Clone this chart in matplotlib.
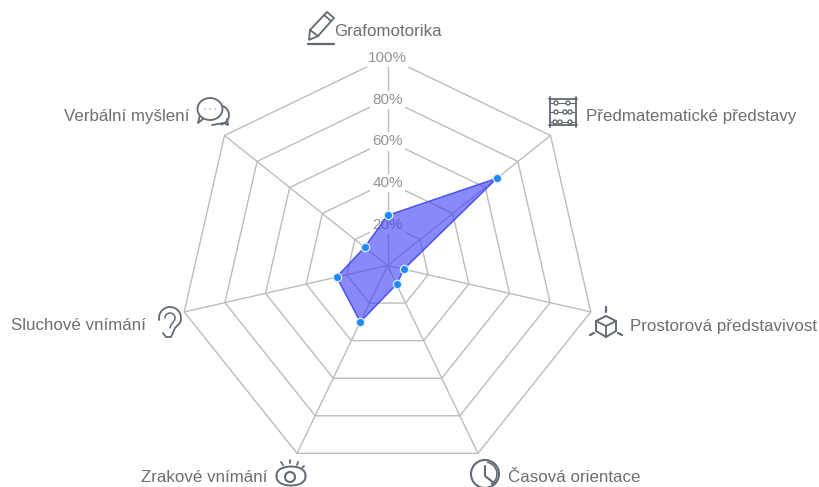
import numpy as np
import matplotlib
matplotlib.use('Agg')
import matplotlib.pyplot as plt
from matplotlib.patches import Circle, Ellipse, Arc, Polygon

# data
categories = ['Grafomotorika', 'Předmatematické představy', 'Prostorová představivost',
              'Časová orientace', 'Zrakové vnímání', 'Sluchové vnímání', 'Verbální myšlení']
values = [24, 67, 8, 10, 30, 25, 14]
ticks = [20, 40, 60, 80, 100]

GRID = '#bcbcbc'
TEXT = '#6e6e6e'
TICK = '#949494'
ICON = '#626972'

plt.rcParams['font.family'] = ['Liberation Sans', 'DejaVu Sans']

W, H = 819, 487
cx, cy, R = 387.5, 265.5, 208.5
fig = plt.figure(figsize=(W / 100, H / 100), dpi=100)

# radar axes, placed so the centre and the radius fall on the reference's pixels
ax = fig.add_axes([(cx - R) / W, (H - cy - R) / H, 2 * R / W, 2 * R / H], projection='polar')
ax.set_theta_zero_location('N')
ax.set_theta_direction(-1)
ax.set_ylim(0, 100)
ax.axis('off')

theta = np.linspace(0, 2 * np.pi, len(categories), endpoint=False)
closed = np.append(theta, theta[0])

for t in ticks:
    ax.plot(closed, [t] * len(closed), color=GRID, lw=1.0, zorder=1, clip_on=False)
for a in theta:
    ax.plot([a, a], [0, 100], color=GRID, lw=1.0, zorder=1, clip_on=False)

for t in ticks:
    ax.annotate(f'{t}%', xy=(0, t), xytext=(0, -1), textcoords='offset pixels',
                color=TICK, fontsize=11, ha='center', va='center', zorder=2,
                annotation_clip=False,
                bbox=dict(facecolor='white', edgecolor='none', pad=1.5))

vals = np.array(values + values[:1])
ax.fill(closed, vals, facecolor=(0.23, 0.24, 0.96, 0.6), edgecolor='none', zorder=3)
ax.plot(closed, vals, color='#4a52f2', lw=1.1, zorder=4)
ax.plot(theta, values, ls='none', marker='o', ms=6, mfc='#1f8af5', mec='#dcecfb', mew=0.9,
        zorder=5, clip_on=False)

# overlay in pixels for the labels and the icons
px = fig.add_axes([0, 0, 1, 1], facecolor='none')
px.set_xlim(0, W)
px.set_ylim(H, 0)
px.axis('off')

label_pos = [(334, 31, 'left'), (586, 116, 'left'), (630, 326, 'left'), (508, 478, 'left'),
             (267, 478, 'right'), (146, 326, 'right'), (189, 116, 'right')]
for name, (x, y, ha) in zip(categories, label_pos):
    px.text(x, y, name, color=TEXT, fontsize=12.2, ha=ha, va='center')


def ln(xs, ys, lw=1.3):
    px.plot(xs, ys, color=ICON, lw=lw, solid_capstyle='round', solid_joinstyle='round')


# pencil
px.add_patch(Polygon([(309, 40), (310, 30), (327, 12), (334, 18), (318, 36)], closed=True,
                     fc='none', ec=ICON, lw=1.3))
ln([310, 318], [30, 36])
ln([324, 331], [15, 21])
ln([308, 334], [43.5, 43.5], 1.6)

# abacus
ln([549, 577], [99, 99])
ln([549, 577], [125, 125])
ln([550, 550], [97, 127])
ln([576, 576], [97, 127])
for y, beads in zip([103, 112, 122], [[556, 568], [556, 565, 570], [555, 560, 570]]):
    ln([550, 576], [y, y], 0.8)
    for b in beads:
        px.add_patch(Circle((b, y), 2, fc='white', ec=ICON, lw=1, zorder=3))

# cube
px.add_patch(Polygon([(606, 316), (616, 321), (616, 331), (606, 337), (596, 331), (596, 321)],
                     closed=True, fc='none', ec=ICON, lw=1.4))
ln([596, 606, 616], [321, 326, 321])
ln([606, 606], [326, 337])
ln([606, 606], [307, 312], 1.6)
ln([590, 594], [335, 333], 1.6)
ln([618, 622], [333, 335], 1.6)

# clock
px.add_patch(Circle((485, 474), 14, fc='none', ec=ICON, lw=1.5))
px.add_patch(Arc((485, 474), 24, 24, theta1=-80, theta2=60, ec=ICON, lw=1.2))
ln([485, 485, 494], [466, 476, 483], 1.5)

# eye
s = np.linspace(0, np.pi, 30)
eye_x = 291 - 14.5 * np.cos(s)
ln(eye_x, 476 - 9.5 * np.sin(s) ** 0.8, 1.4)
ln(eye_x, 476 + 9.5 * np.sin(s) ** 0.8, 1.4)
px.add_patch(Circle((290, 477), 5, fc='none', ec=ICON, lw=1.5))
ln([281, 283], [462, 465])
ln([290, 290], [460, 463])
ln([298, 297], [462, 465])
ln([304, 302], [466, 468])

# ear
a_ear = np.radians(np.linspace(190, -30, 30))
ln(np.r_[170 + 11 * np.cos(a_ear), 175, 171, 166, 163],
   np.r_[318 - 11 * np.sin(a_ear), 328, 337, 337, 333])
a_in = np.radians(np.linspace(180, -40, 20))
ln(np.r_[170 + 5 * np.cos(a_in), 171, 170], np.r_[318 - 5 * np.sin(a_in), 325, 328], 1.1)

# speech bubbles
px.add_patch(Arc((218, 115), 22, 20, theta1=-100, theta2=75, ec=ICON, lw=1.3, zorder=2))
px.add_patch(Ellipse((210, 109), 25, 22, fc='white', ec=ICON, lw=1.3, zorder=3))
ln([203, 198, 200], [119, 123, 115])
ln([224, 228, 227], [123, 125, 119])
ln([212, 224], [125, 123])
for x in [205, 210, 215]:
    px.add_patch(Circle((x, 109), 0.6, fc=ICON, ec='none', zorder=4))

fig.savefig('out.png', dpi=100)
